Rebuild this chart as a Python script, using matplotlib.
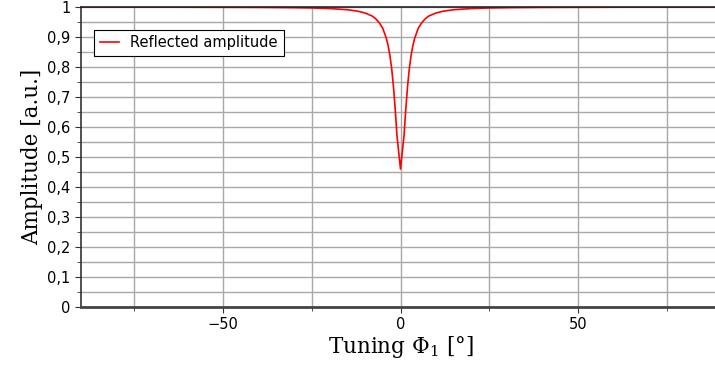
import matplotlib
matplotlib.use("Agg")
from matplotlib import pyplot as plt
from matplotlib.ticker import MultipleLocator, FuncFormatter

# reflected amplitude, tuning angle in degrees
phi = [-90, -60, -40, -30, -25, -20, -15, -12, -10, -8, -7, -6, -5, -4, -3.5, -3,
       -2.5, -2, -1.5, -1, 0, 1, 1.5, 2, 2.5, 3, 3.5, 4, 5, 6, 7, 8, 10, 12, 15,
       20, 25, 30, 40, 60, 90]
amp = [0.9997, 0.9994, 0.9987, 0.9977, 0.9967, 0.9949, 0.991, 0.986, 0.980, 0.970,
       0.961, 0.948, 0.929, 0.896, 0.872, 0.840, 0.796, 0.737, 0.661, 0.572, 0.46,
       0.572, 0.661, 0.737, 0.796, 0.840, 0.872, 0.896, 0.929, 0.948, 0.961, 0.970,
       0.980, 0.986, 0.991, 0.9949, 0.9967, 0.9977, 0.9987, 0.9994, 0.9997]

xlabel = r"Tuning $\Phi_1$ [°]"
ylabel = "Amplitude [a.u.]"
legend_label = "Reflected amplitude"

plt.rcParams['mathtext.fontset'] = 'dejavuserif'

fig = plt.figure(figsize=(7.15, 3.69), dpi=100)
ax = fig.add_axes([81/715, 62/369, 639/715, 300/369])

ax.plot(phi, amp, color="red", lw=1.2, label=legend_label)

ax.set_xlim(-90, 90)
ax.set_ylim(0, 1)

ax.xaxis.set_major_locator(MultipleLocator(50))
ax.xaxis.set_minor_locator(MultipleLocator(25))
ax.yaxis.set_major_locator(MultipleLocator(0.1))
ax.yaxis.set_minor_locator(MultipleLocator(0.05))

def yfmt(v, pos):
    if abs(v) < 1e-9:
        return "0"
    if abs(v - 1) < 1e-9:
        return "1"
    return f"{v:.1f}".replace(".", ",")

def xfmt(v, pos):
    return f"{v:.0f}".replace("-", "\u2212")

ax.yaxis.set_major_formatter(FuncFormatter(yfmt))
ax.xaxis.set_major_formatter(FuncFormatter(xfmt))

ax.grid(which="both", color="#a8a8a8", lw=1)
ax.set_axisbelow(True)

ax.tick_params(which="both", direction="out", labelsize=10.5, color="#333333")
ax.tick_params(which="major", length=4)
ax.tick_params(which="minor", length=3)

ax.spines["right"].set_visible(False)
ax.spines["top"].set_color("#222222")
ax.spines["top"].set_linewidth(1.2)
ax.spines["left"].set_color("#333333")
ax.spines["left"].set_linewidth(1.2)
ax.spines["bottom"].set_color("#444444")
ax.spines["bottom"].set_linewidth(2)

ax.set_xlabel(xlabel, family="DejaVu Serif", fontsize=15.5, labelpad=1)
ax.set_ylabel(ylabel, family="DejaVu Serif", fontsize=15.5, labelpad=3)

leg = ax.legend(loc="upper left", bbox_to_anchor=(0.02, 0.925), borderaxespad=0,
                fancybox=False, edgecolor="black", framealpha=1, fontsize=10.5,
                handlelength=1.3, borderpad=0.4)
leg.get_frame().set_linewidth(0.8)

plt.savefig("out.png", dpi=100)
